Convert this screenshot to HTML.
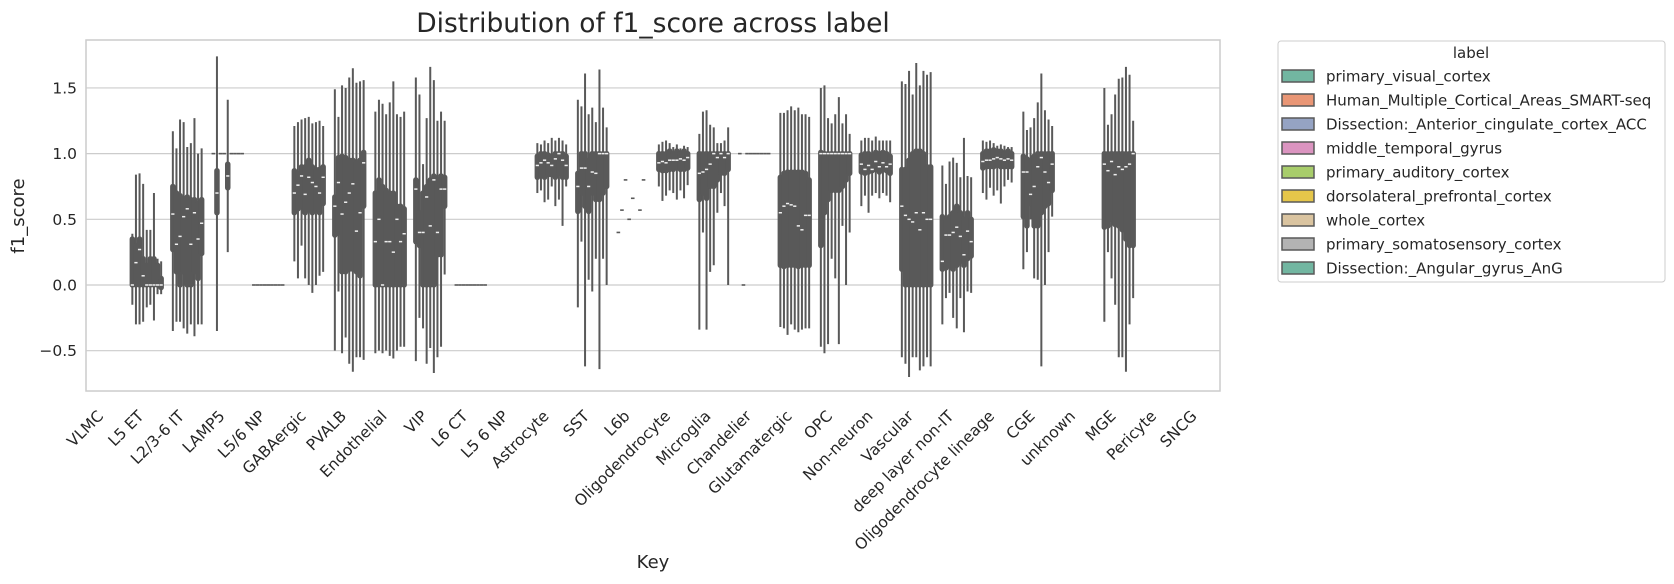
<!DOCTYPE html>
<html><head><meta charset="utf-8"><style>
html,body{margin:0;padding:0;background:#fff;}
svg{display:block;font-family:"DejaVu Sans","Liberation Sans",sans-serif;}
</style></head><body>
<svg id="chart" width="1674" height="584" viewBox="0 0 1674 584" xmlns="http://www.w3.org/2000/svg">
<rect x="0" y="0" width="1674" height="584" fill="#fff"/>
<g id="grid"></g>
<g id="marks"></g>
<rect x="86" y="40" width="1134" height="351" fill="none" stroke="#cccccc" stroke-width="1.5"/>
<g id="yticks"></g>
<g id="xticks"></g>
<text x="653" y="32" text-anchor="middle" font-size="26.5" fill="#262626">Distribution of f1_score across label</text>
<text transform="translate(24,216) rotate(-90)" text-anchor="middle" font-size="18" fill="#262626">f1_score</text>
<text x="653" y="568" text-anchor="middle" font-size="18" fill="#262626">Key</text>
<g id="legend">
<rect x="1278" y="41" width="387" height="241" rx="3" fill="#fff" stroke="#cccccc" stroke-width="1"/>
<text x="1471" y="58" text-anchor="middle" font-size="15" fill="#262626">label</text>
</g>
</svg>
<script>
const categories = ["VLMC","L5 ET","L2/3-6 IT","LAMP5","L5/6 NP","GABAergic","PVALB","Endothelial","VIP","L6 CT","L5 6 NP","Astrocyte","SST","L6b","Oligodendrocyte","Microglia","Chandelier","Glutamatergic","OPC","Non-neuron","Vascular","deep layer non-IT","Oligodendrocyte lineage","CGE","unknown","MGE","Pericyte","SNCG"];
const hues = ["primary_visual_cortex","Human_Multiple_Cortical_Areas_SMART-seq","Dissection:_Anterior_cingulate_cortex_ACC","middle_temporal_gyrus","primary_auditory_cortex","dorsolateral_prefrontal_cortex","whole_cortex","primary_somatosensory_cortex","Dissection:_Angular_gyrus_AnG"];
const hueColors = ["#72b6a1","#e99675","#95a3c3","#db94c0","#a8cd6b","#e5c64a","#dac4a0","#b3b3b3","#72b6a1"];
const yTicks = [1.5,1.0,0.5,0.0,-0.5];
const yTickLabels = ["1.5","1.0","0.5","0.0","\u22120.5"];
const N = null;
const F1 = [1,1,1,1,1], F0 = [0,0,0,0,0];
// per category: 9 hue tuples [min, q1, median, q3, max]
const stats = [
 [N,N,N,N,N,N,N,N,N],
 [[-0.15,0,0,0.35,0.39],[-0.3,0,0.17,0.3,0.84],[-0.3,0,0.27,0.35,0.85],[-0.28,0,0.07,0.2,0.77],[-0.17,0,0,0.15,0.42],[-0.15,0,0,0.2,0.42],[-0.27,0,0,0.2,0.7],[-0.07,0,0,0.15,0.2],[-0.07,-0.02,0,0.05,0.18]],
 [[-0.35,0.27,0.54,0.75,1.17],[-0.28,0.1,0.31,0.7,1.04],[-0.28,0,0.37,0.68,1.26],[-0.33,0.1,0.52,0.66,1.24],[-0.37,0,0.58,0.67,1.05],[-0.3,0,0.31,0.65,1.08],[-0.39,0.1,0.55,0.65,1.27],[-0.3,0.05,0.35,0.62,1.0],[-0.3,0.24,0.47,0.65,1.04]],
 [F1,[-0.35,0.55,0.7,0.87,1.74],F1,F1,[0.25,0.74,0.83,0.92,1.41],F1,F1,F1,F1],
 [F0,F0,F0,F0,F0,F0,F0,F0,F0],
 [[0.18,0.55,0.7,0.87,1.21],[0.05,0.58,0.76,0.85,1.24],[0.3,0.6,0.83,0.9,1.26],[0.05,0.55,0.69,0.9,1.27],[0,0.57,0.82,0.95,1.28],[-0.06,0.55,0.78,0.9,1.23],[0,0.57,0.75,0.88,1.24],[0.07,0.55,0.7,0.88,1.25],[0.1,0.62,0.82,0.9,1.21]],
 [[-0.5,0.38,0.6,0.67,1.49],[-0.05,0.4,0.78,0.97,1.28],[-0.52,0.1,0.54,0.98,1.52],[-0.4,0.1,0.63,0.97,1.5],[-0.6,0.12,0.7,0.95,1.58],[-0.66,0.12,0.77,0.95,1.65],[-0.55,0.1,0.41,0.93,1.54],[-0.55,0.07,0.55,0.95,1.55],[-0.57,0.6,0.93,1.01,1.56]],
 [[-0.52,0,0.33,0.7,1.32],[-0.5,0,0.5,0.8,1.41],[-0.52,0,0,0.75,1.38],[-0.5,0,0.33,0.72,1.3],[-0.54,0,0.33,0.7,1.39],[-0.56,0,0.25,0.7,1.55],[-0.5,0,0.5,0.6,1.3],[-0.47,0,0.33,0.6,1.28],[-0.47,0,0.39,0.58,1.32]],
 [[-0.58,0.33,0.73,0.8,1.58],[-0.25,0.3,0.4,0.55,1.45],[-0.33,0,0.4,0.7,0.92],[-0.6,0,0.67,0.75,1.27],[-0.48,0,0.45,0.8,1.66],[-0.67,0,0.8,0.83,1.56],[-0.55,0.23,0.4,0.8,1.25],[-0.47,0.23,0.73,0.83,1.32],[0.08,0.6,0.73,0.82,1.25]],
 [F0,F0,F0,F0,F0,F0,F0,F0,F0],
 [N,N,N,N,N,N,N,N,N],
 [[0.7,0.82,0.91,0.98,1.08],[0.72,0.83,0.93,1.0,1.07],[0.63,0.82,0.95,1.0,1.1],[0.65,0.84,0.93,0.99,1.08],[0.75,0.84,0.91,0.98,1.12],[0.6,0.82,0.96,1.0,1.1],[0.65,0.85,1.0,1.0,1.12],[0.45,0.82,0.95,1.0,1.1],[0.75,0.82,0.91,0.98,1.07]],
 [[-0.17,0.56,0.75,0.85,1.41],[0.33,0.7,0.89,1.0,1.36],[-0.62,0.6,0.89,1.0,1.61],[0.04,0.56,0.75,0.95,1.3],[-0.05,0.7,0.86,1.0,1.35],[0.2,0.65,0.85,1.0,1.24],[-0.64,0.65,1.0,1.0,1.64],[0.2,0.7,1.0,1.0,1.35],[0.0,0.75,1.0,1.0,1.2]],
 [[0.4,0.4,0.4,0.4,0.4],[0.57,0.57,0.57,0.57,0.57],[0.8,0.8,0.8,0.8,0.8],[0.5,0.5,0.5,0.5,0.5],[0.66,0.66,0.66,0.66,0.66],N,[0.57,0.57,0.57,0.57,0.57],[0.8,0.8,0.8,0.8,0.8],N],
 [[0.75,0.88,0.93,1.0,1.07],[0.64,0.87,0.94,1.0,1.09],[0.68,0.87,0.93,1.0,1.1],[0.72,0.88,0.95,1.02,1.08],[0.7,0.88,0.95,1.0,1.05],[0.65,0.89,0.95,1.02,1.07],[0.72,0.88,0.96,1.0,1.04],[0.66,0.88,0.95,1.02,1.06],[0.76,0.89,0.97,1.0,1.05]],
 [[-0.34,0.65,0.85,1.0,1.15],[0.4,0.7,0.86,1.0,1.32],[-0.34,0.66,0.88,1.0,1.33],[0.1,0.75,0.92,1.0,1.22],[0.15,0.75,1.0,1.0,1.2],[0.55,0.8,0.97,1.0,1.08],[0.7,0.85,1.0,1.0,1.08],[0.6,0.85,0.97,1.0,1.1],[0.0,0.88,1.0,1.0,1.2]],
 [F1,F0,F1,F1,F1,F1,F1,F1,F1],
 [[-0.32,0.15,0.55,0.82,1.31],[-0.33,0.14,0.6,0.85,1.31],[-0.38,0.15,0.62,0.86,1.33],[-0.3,0.15,0.61,0.86,1.36],[-0.34,0.15,0.6,0.86,1.33],[-0.36,0.14,0.45,0.86,1.35],[-0.34,0.15,0.42,0.86,1.3],[-0.33,0.15,0.53,0.85,1.3],[-0.33,0.15,0.53,0.8,1.28]],
 [[-0.47,0.3,1.0,1.01,1.5],[-0.52,0.55,1.0,1.0,1.52],[-0.45,0.65,1.0,1.0,1.27],[0.2,0.72,1.0,1.0,1.23],[0.05,0.72,1.0,1.0,1.3],[-0.45,0.72,1.0,1.0,1.43],[0.45,0.75,1.0,1.0,1.23],[0.0,0.8,1.0,1.0,1.3],[0.4,0.85,1.0,1.0,1.15]],
 [[0.6,0.86,0.92,0.99,1.1],[0.68,0.85,0.88,1.0,1.12],[0.55,0.86,0.91,1.0,1.12],[0.68,0.87,0.88,0.99,1.1],[0.7,0.88,0.94,1.01,1.13],[0.66,0.86,0.9,1.0,1.1],[0.7,0.88,0.93,1.01,1.1],[0.68,0.87,0.9,1.0,1.1],[0.63,0.85,0.92,0.98,1.1]],
 [[-0.55,0.12,0.6,0.88,1.55],[-0.6,0,0.53,0.88,1.53],[-0.7,0,0.5,0.95,1.63],[-0.55,0,0.48,1.0,1.45],[-0.55,0,0.55,1.02,1.69],[-0.65,0,0.42,1.02,1.52],[-0.62,0,0.55,1.0,1.63],[-0.55,0,0.5,0.9,1.6],[-0.62,0,0.5,0.9,1.62]],
 [[-0.3,0.12,0.18,0.52,0.91],[-0.1,0.13,0.38,0.5,0.77],[-0.06,0.15,0.38,0.52,0.94],[-0.25,0.12,0.4,0.55,0.97],[-0.33,0.15,0.44,0.6,0.93],[-0.1,0.18,0.37,0.55,0.82],[-0.36,0.15,0.23,0.5,1.12],[-0.05,0.2,0.41,0.55,0.83],[-0.06,0.22,0.33,0.5,0.82]],
 [[0.7,0.89,0.94,1.0,1.1],[0.65,0.9,0.95,1.02,1.09],[0.74,0.9,0.95,1.02,1.1],[0.68,0.9,0.96,1.03,1.08],[0.72,0.91,0.97,1.02,1.06],[0.62,0.9,0.96,1.02,1.07],[0.75,0.9,0.95,1.0,1.06],[0.8,0.9,0.96,1.02,1.05],[0.78,0.9,0.95,1.0,1.05]],
 [[0.12,0.52,0.86,0.98,1.32],[0.25,0.45,0.86,0.96,1.18],[0.5,0.62,0.69,0.95,1.2],[0.05,0.45,0.75,0.98,1.27],[0.04,0.45,0.9,1.0,1.39],[-0.62,0.55,0.97,1.0,1.61],[0.0,0.6,0.86,1.0,1.33],[0.25,0.62,0.78,1.0,1.26],[0.52,0.72,0.92,1.0,1.21]],
 [N,N,N,N,N,N,N,N,N],
 [[-0.28,0.44,0.92,1.0,1.5],[0.25,0.45,0.87,1.0,1.22],[0.05,0.5,0.94,1.0,1.3],[-0.15,0.46,0.84,1.0,1.45],[-0.55,0.45,0.9,1.0,1.57],[-0.55,0.42,0.88,1.0,1.58],[-0.66,0.35,0.9,1.0,1.66],[-0.3,0.3,0.92,1.0,1.6],[-0.1,0.3,1.0,1.0,1.25]],
 [N,N,N,N,N,N,N,N,N],
 [N,N,N,N,N,N,N,N,N]
];

const NS = "http://www.w3.org/2000/svg";
const plotL = 86, plotR = 1220, plotT = 40, plotB = 391;
const yMin = -0.807, yMax = 1.865;
function yScale(v){ return plotB - (v - yMin) / (yMax - yMin) * (plotB - plotT); }
const band = (plotR - plotL) / categories.length;
function xScale(i){ return plotL + band * (i + 0.5); }
const hueW = band * 0.8 / hues.length;
function hueX(i, k){ return xScale(i) - band * 0.4 + hueW * (k + 0.5); }
function mk(tag, attrs, parent){
  const el = document.createElementNS(NS, tag);
  for (const a in attrs) el.setAttribute(a, attrs[a]);
  parent.appendChild(el);
  return el;
}
const grid = document.getElementById('grid');
const yt = document.getElementById('yticks');
yTicks.forEach((t, j) => {
  const ln = mk('line', {x1: plotL, x2: plotR, y1: yScale(t), y2: yScale(t), stroke: '#cccccc', 'stroke-width': 1.2}, grid);
  
  
  const tx = mk('text', {x: 77, y: yScale(t) + 5.5, 'text-anchor': 'end', 'font-size': 15.5, fill: '#262626'}, yt);
  tx.textContent = yTickLabels[j];
  
  
});
const xt = document.getElementById('xticks');
categories.forEach((c, i) => {
  const px = xScale(i) - 2, py = 417;
  const tx = mk('text', {x: px, y: py, 'text-anchor': 'end', 'font-size': 15.5, fill: '#262626', transform: `rotate(-45 ${px} ${py})`}, xt);
  tx.textContent = c;
  
  
});
const marks = document.getElementById('marks');
const gray = '#595959';
stats.forEach((row, i) => {
  row.forEach((s, k) => {
    if (!s) return;
    const x = hueX(i, k);
    const g = mk('g', {}, marks);
    
    
    if (s[4] - s[0] < 0.005) {
      mk('line', {x1: x - hueW/2, x2: x + hueW/2, y1: yScale(s[2]), y2: yScale(s[2]), stroke: gray, 'stroke-width': 1.6}, g);
      return;
    }
    mk('line', {x1: x, x2: x, y1: yScale(s[0]), y2: yScale(s[4]), stroke: gray, 'stroke-width': 2}, g);
    mk('line', {x1: x, x2: x, y1: yScale(s[1]), y2: yScale(s[3]), stroke: gray, 'stroke-width': 5.5, 'stroke-linecap': 'round'}, g);
  });
});
stats.forEach((row, i) => {
  row.forEach((s, k) => {
    if (!s || s[4] - s[0] < 0.005) return;
    const x = hueX(i, k);
    const m = mk('line', {x1: x - 1.6, x2: x + 1.6, y1: yScale(s[2]), y2: yScale(s[2]), stroke: '#f0f0f0', 'stroke-width': 1.5}, marks);
    
    
  });
});
const lg = document.getElementById('legend');
hues.forEach((h, k) => {
  const cy = 76 + 24 * k;
  const r = mk('rect', {x: 1282, y: cy - 6, width: 32, height: 12, fill: hueColors[k], stroke: '#595959', 'stroke-width': 1.5}, lg);
  
  
  const t = mk('text', {x: 1326, y: cy + 5.5, 'font-size': 15, fill: '#262626'}, lg);
  t.textContent = h;
  
  
});
</script>
</body></html>
